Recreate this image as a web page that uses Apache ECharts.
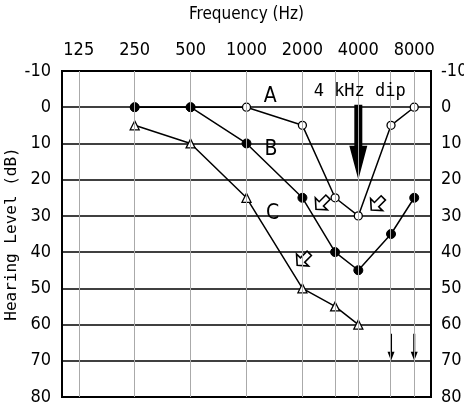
<!DOCTYPE html>
<html>
<head>
<meta charset="utf-8">
<script src="https://cdn.jsdelivr.net/npm/echarts@6/dist/echarts.min.js"></script>
<style>
  html, body { margin: 0; padding: 0; background: #fff; }
  #chart { width: 464px; height: 402px; }
</style>
</head>
<body>
<div id="chart"></div>
<script>
// audiogram data (frequency in Hz, hearing level in dB)
const freqTicks = [125, 250, 500, 1000, 2000, 4000, 8000];
const gridFreqs = [125, 250, 500, 1000, 2000, 3000, 4000, 6000, 8000];

const curveA = [[250, 0], [500, 0], [1000, 0], [2000, 5], [3000, 25], [4000, 30], [6000, 5], [8000, 0]];
const curveB = [[250, 0], [500, 0], [1000, 10], [2000, 25], [3000, 40], [4000, 45], [6000, 35], [8000, 25]];
const curveC = [[250, 5], [500, 10], [1000, 25], [2000, 50], [3000, 55], [4000, 60]];

// "no response" arrows, tip at the given level
const noResponse = [[6000, 70], [8000, 70]];
// big arrow marking the dip, tip level
const dipArrow = [[4000, 20]];
// small hollow arrows
const hintArrows = [[2550, 26.5], [5060, 26.7], [2020, 42]];
// curve names
const curveNames = [["A", 1340, -3], ["B", 1355, 11.7], ["C", 1380, 29.3]];
const dipNote = [["4 kHz dip", 4070, -4.3]];

const toX = (f) => Math.log2(f / 125);
const pts = (arr) => arr.map(([f, v]) => [toX(f), v]);

const cond = "'DejaVu Sans'";
const mono = "'DejaVu Sans Mono', 'Liberation Mono', monospace";

const chart = echarts.init(document.getElementById("chart"));

const lineBase = {
  type: "line",
  lineStyle: { color: "#000", width: 1.5 },
  animation: false,
  z: 3
};

const labelFont = { color: "#000", fontSize: 18, fontWeight: "condensed", fontFamily: cond };

chart.setOption({
  animation: false,
  grid: {
    left: 62, right: 33, top: 71, bottom: 5,
    outerBoundsMode: "none",
    show: true, borderColor: "#000", borderWidth: 2, backgroundColor: "#fff"
  },
  xAxis: {
    type: "value",
    position: "top",
    min: -0.3,
    max: 6.3,
    axisLine: { show: false },
    axisTick: { show: false },
    splitLine: { show: false },
    axisLabel: {
      customValues: freqTicks.map(toX),
      formatter: (v) => String(Math.round(125 * Math.pow(2, v))),
      margin: 12,
      ...labelFont
    },
    name: "Frequency (Hz)",
    nameLocation: "middle",
    nameGap: 48,
    nameMoveOverlap: false,
    nameTextStyle: { color: "#000", fontSize: 17, fontWeight: "condensed", fontFamily: cond }
  },
  yAxis: [
    {
      type: "value",
      inverse: true,
      min: -10,
      max: 80,
      interval: 10,
      axisLine: { show: false },
      axisTick: { show: false },
      axisLabel: { margin: 11, ...labelFont },
      splitLine: { lineStyle: { color: "#000", width: 1.5 } },
      name: "Hearing Level (dB)",
      nameLocation: "middle",
      nameRotate: 90,
      nameGap: 42,
      nameMoveOverlap: false,
      nameTextStyle: { color: "#000", fontSize: 16, fontFamily: mono }
    },
    {
      type: "value",
      inverse: true,
      position: "right",
      min: -10,
      max: 80,
      interval: 10,
      axisLine: { show: false },
      axisTick: { show: false },
      axisLabel: { margin: 10, ...labelFont },
      splitLine: { show: false }
    }
  ],
  series: [
    {
      type: "line",
      data: [],
      silent: true,
      markLine: {
        silent: true,
        symbol: ["none", "none"],
        label: { show: false },
        lineStyle: { color: "#aaa", width: 1, type: "solid" },
        data: gridFreqs.map((f) => ({ xAxis: toX(f) }))
      },
      z: 1
    },
    {
      ...lineBase,
      name: "A",
      data: pts(curveA),
      symbol: "circle",
      symbolSize: 8,
      itemStyle: { color: "#fff", borderColor: "#000", borderWidth: 1.3 }
    },
    {
      ...lineBase,
      name: "C",
      data: pts(curveC),
      symbol: "triangle",
      symbolSize: 9,
      itemStyle: { color: "#fff", borderColor: "#000", borderWidth: 1.3 }
    },
    {
      ...lineBase,
      name: "B",
      data: pts(curveB),
      symbol: "circle",
      symbolSize: 9,
      itemStyle: { color: "#000", borderColor: "#000", borderWidth: 1 }
    },
    {
      type: "scatter",
      data: pts(dipArrow),
      symbol: "path://M-4,0 L4,0 L4,41 L9,41 L0,75 L-9,41 L-4,41 Z",
      symbolSize: [18, 75],
      symbolOffset: [0, "-50%"],
      itemStyle: { color: "#000", opacity: 1 },
      z: 4
    },
    {
      type: "scatter",
      data: pts(noResponse),
      symbol: "path://M-1,0 L1,0 L1,18 L3.5,18 L0,27 L-3.5,18 L-1,18 Z",
      symbolSize: [7, 27],
      symbolOffset: [0, "-50%"],
      itemStyle: { color: "#000", opacity: 1 },
      z: 4
    },
    {
      type: "scatter",
      data: pts(hintArrows),
      symbol: "path://M0,-9 L7,-1 L2.5,-1 L2.5,9 L-2.5,9 L-2.5,-1 L-7,-1 Z",
      symbolSize: 17,
      symbolRotate: 135,
      itemStyle: { color: "#fff", borderColor: "#000", borderWidth: 1.6, opacity: 1 },
      z: 4
    },
    {
      type: "scatter",
      data: curveNames.map(([t, f, v]) => ({ name: t, value: [toX(f), v] })),
      symbolSize: 0,
      itemStyle: { opacity: 1 },
      label: { show: true, position: "inside", formatter: "{b}", color: "#000", fontSize: 21, fontWeight: "condensed", fontFamily: cond },
      z: 5
    },
    {
      type: "scatter",
      data: dipNote.map(([t, f, v]) => ({ name: t, value: [toX(f), v] })),
      symbolSize: 0,
      itemStyle: { opacity: 1 },
      label: { show: true, position: "inside", formatter: "{b}", color: "#000", fontSize: 17, fontFamily: mono },
      z: 5
    }
  ]
});
</script>
</body>
</html>
